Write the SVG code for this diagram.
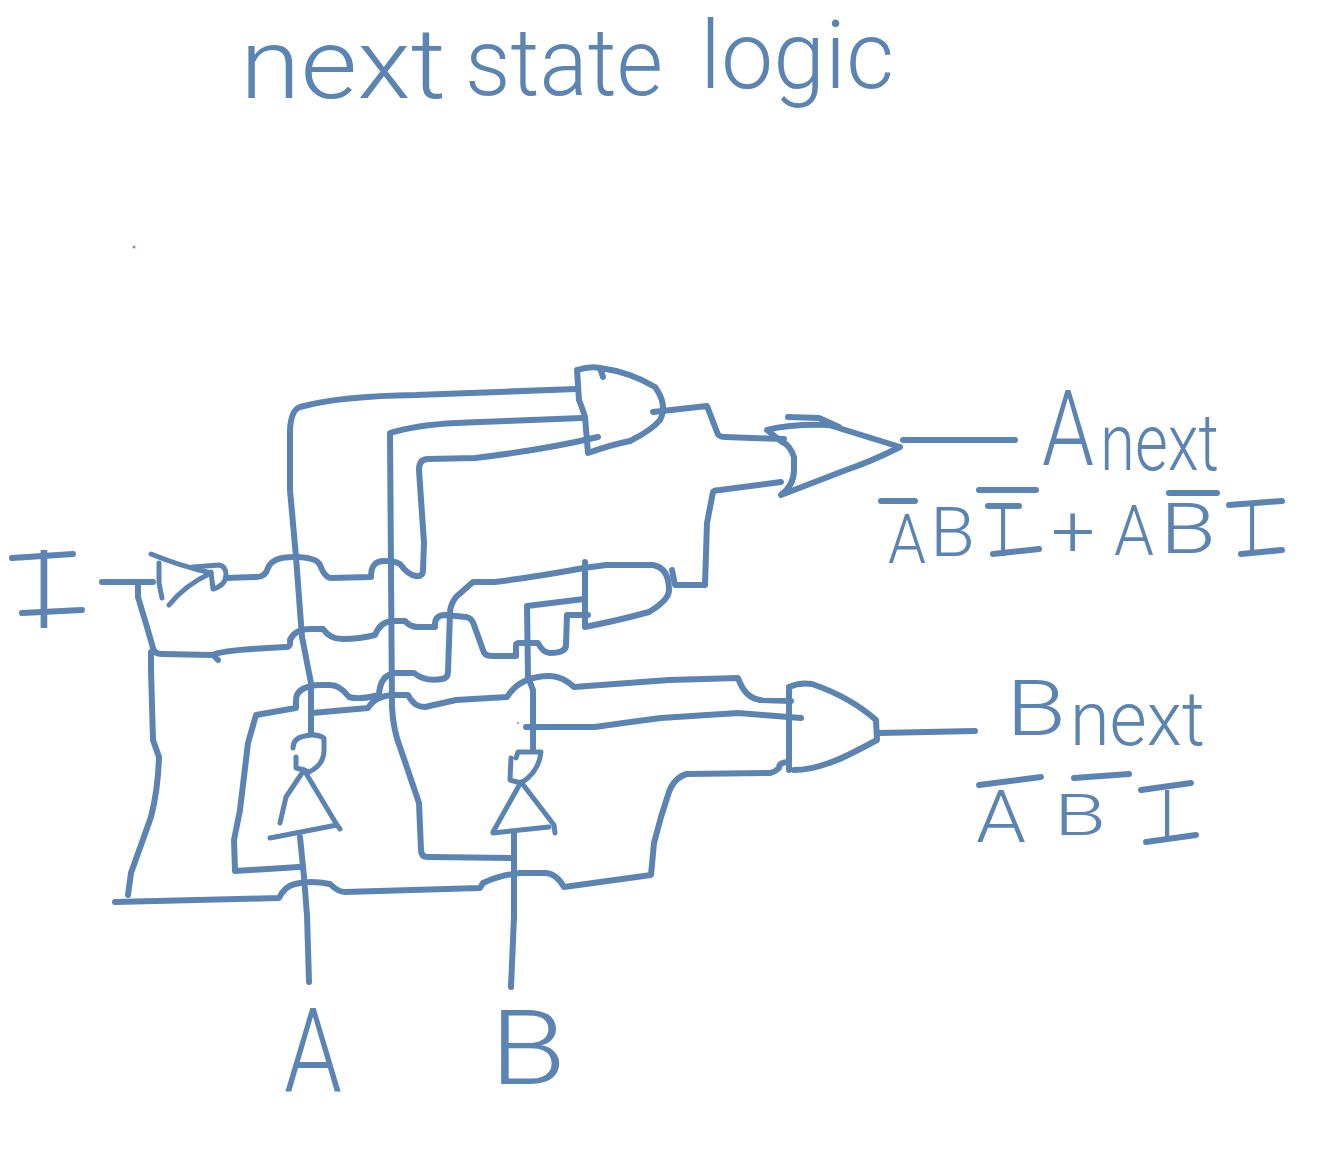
<svg xmlns="http://www.w3.org/2000/svg" width="1322" height="1168" viewBox="0 0 1322 1168">
<defs>
<style>
.w{fill:none;stroke:#5b84b3;stroke-width:6;stroke-linecap:round;stroke-linejoin:round}
.t{fill:none;stroke:#5b84b3;stroke-width:5;stroke-linecap:round;stroke-linejoin:round}
.x{fill:#5b84b3;font-family:Roboto,"Liberation Sans",sans-serif;font-weight:300}
</style>
<filter id="soft" filterUnits="userSpaceOnUse" x="0" y="0" width="1322" height="1168"><feGaussianBlur stdDeviation="0.6"/></filter>
</defs>
<rect width="1322" height="1168" fill="#ffffff"/>
<circle cx="134" cy="247" r="1.5" fill="#c9707f"/>
<circle cx="518" cy="723" r="1.2" fill="#8fa9c8"/>
<g filter="url(#soft)">
<g id="title">
<text class="x" x="240" y="98" font-size="98" textLength="206" lengthAdjust="spacingAndGlyphs">next</text>
<text class="x" x="465" y="95" font-size="94" textLength="198" lengthAdjust="spacingAndGlyphs">state</text>
<text class="x" x="700" y="88" font-size="94" textLength="194" lengthAdjust="spacingAndGlyphs">logic</text>
</g>
<g id="connectors">
<path class="w" d="M576,389 L416,395 Q340,396 300,407 Q291,410 290,430 L290,490 L296,557 L302,637 L311,683 L311,733"/>
<path class="w" d="M582,418 L456,423 Q416,425 390,433 L392,707 Q393,730 401,750 L419,803 L421,850 Q421,857 428,857 L513,858"/>
<path class="w" d="M598,437 Q543,450 475,458 L428,459 Q419,459 419,470 L424,543 L423,570 Q423,577 416,576 Q408,575 400,564 Q395,561 385,561 Q371,560 371,577 L331,578 Q325,578 320,565 Q317,558 298,557 Q272,556 268,568 Q265,578 255,577 L226,578"/>
<path class="w" d="M102,582 L153,582"/>
<path class="w" d="M138,582 L138,597 L147,627 L153,648 Q154,654 162,654 L213,655 Q222,650 286,647 Q291,647 290,640 Q295,629 310,629 L323,629 Q330,639 342,639 Q360,639 375,635 Q380,622 392,621 L405,621 Q410,627 418,627 L435,627 Q434,615 445,615 L466,617 Q472,618 474,625 L483,650 Q484,656 492,656 L516,656 L516,645 Q516,643 520,643 L538,643 Q543,653 550,653 Q566,653 566,645 L567,615 L588,615"/>
<path class="w" d="M213,655 L218,660"/>
<path class="w" d="M151,652 L151,670 L153,740 L159,757 Q158,790 151,817 L131,873 L128,895"/>
<path class="w" d="M584,568 Q535,577 495,582 L473,582 L456,597 Q450,605 450,613 L448,672 Q448,678 442,679 Q425,682 414,673 L395,673 Q380,675 379,695 Q360,700 349,697 Q340,685 330,685 L318,685 Q296,687 296,700 L296,708 L256,715 L248,743 L240,810 L234,840 L235,871 L299,867"/>
<path class="w" d="M312,713 L368,708 Q376,695 395,695 L408,695 Q414,707 425,707 L456,700 L507,697 Q520,676 550,676 Q562,676 574,687 L669,680 L738,678 Q745,698 760,700 L791,701"/>
<path class="w" d="M584,599 L527,606 L528,677 L533,690 L533,750"/>
<path class="w" d="M526,727 L595,727 Q630,722 661,718 L738,713 L801,718"/>
<path class="w" d="M789,762 Q779,762 779,768 Q775,772 770,773 L687,774 Q673,778 668,795 L661,817 L654,843 L651,875 L564,887 Q556,873 545,873 L520,873 Q500,875 483,883 L480,888 L345,892 Q338,892 330,884 Q310,880 295,884 Q285,886 279,898 L115,902"/>
<path class="w" d="M300,837 L304,877 L307,915 L309,982"/>
<path class="w" d="M514,833 L514,917 L511,987"/>
<path class="w" d="M672,570 L675,585 L705,585 L707,523 L713,492 Q714,490 720,490 L781,482"/>
<path class="w" d="M653,412 L707,406 L717,432 Q718,437 725,437 L784,439"/>
<path class="w" d="M903,440 L1015,440"/>
<path class="w" d="M879,733 L975,731"/>
</g>
<g id="inverter-I">
<path class="t" d="M151,554 Q180,566 211,573 Q185,585 169,605"/>
<path class="t" d="M159,563 L159,583 L162,598"/>
<path class="t" d="M193,567 L219,565 Q226,566 226,575 Q226,585 213,589 L211,572"/>
</g>
<g id="inverter-A">
<path class="t" d="M280,823 L286,797 L304,770 L337,825 L340,829"/>
<path class="t" d="M270,838 L337,825"/>
<path class="t" d="M296,757 L296,768 Q305,770 309,772 Q324,765 324,750 L324,738 Q316,733 305,736 Q293,738 293,748"/>
</g>
<g id="inverter-B">
<path class="t" d="M493,832 L521,782 L554,825 L555,833"/>
<path class="t" d="M493,833 L549,827"/>
<path class="t" d="M511,758 L510,780 L521,783 Q539,772 541,752 L518,752 L516,758"/>
</g>
<g id="and-1">
<path class="w" d="M577,370 L579,400 Q583,410 585,417 L588,453 Q610,445 630,441 Q652,430 660,420 Q668,405 655,387 Q630,372 600,368 L603,377 M600,368 Q590,366 577,370"/>
</g>
<g id="and-2">
<path class="w" d="M585,562 L585,627 Q620,620 649,612 Q669,600 669,590 Q669,568 653,565 L606,565 L584,568"/>
</g>
<g id="and-3">
<path class="w" d="M789,690 L789,770 M789,687 Q800,682 812,684 Q850,697 876,720 L877,740 Q840,760 829,763 Q810,770 794,770"/>
</g>
<g id="or-1">
<path class="w" d="M781,495 Q794,485 794,470 L794,457 Q790,445 782,442 L767,430 Q790,424 829,425 L900,447 Q870,462 846,470 L781,495"/>
<path class="w" d="M788,417 L819,418 L839,427"/>
</g>
<g id="label-I">
<text class="x" x="44" y="628" font-size="110" text-anchor="middle">I</text>
<path class="w" d="M12,558 L73,554 M22,613 L82,610"/>
</g>
<g id="label-A"><text class="x" x="284" y="1091" font-size="116" textLength="58" lengthAdjust="spacingAndGlyphs">A</text></g>
<g id="label-B"><text class="x" x="490" y="1084" font-size="103" textLength="76" lengthAdjust="spacingAndGlyphs">B</text></g>
<g id="label-Anext">
<text class="x" x="1042" y="465" font-size="105" textLength="52" lengthAdjust="spacingAndGlyphs">A</text>
<text class="x" x="1100" y="470" font-size="80" textLength="119" lengthAdjust="spacingAndGlyphs">next</text>
</g>
<g id="expr-Anext">
<text class="x" font-size="68" y="563" x="888" textLength="38" lengthAdjust="spacingAndGlyphs">A</text>
<text class="x" font-size="68" y="556" x="930" textLength="45" lengthAdjust="spacingAndGlyphs">B</text>
<text class="x" font-size="68" y="556" x="1003" text-anchor="middle">I</text>
<text class="x" font-size="72" y="556" x="1051" textLength="44" lengthAdjust="spacingAndGlyphs">+</text>
<text class="x" font-size="70" y="555" x="1114" textLength="40" lengthAdjust="spacingAndGlyphs">A</text>
<text class="x" font-size="70" y="553" x="1160" textLength="56" lengthAdjust="spacingAndGlyphs">B</text>
<text class="x" font-size="68" y="553" x="1252" text-anchor="middle">I</text>
<path class="w" d="M881,501 L915,501 M979,490 L1036,490 M988,506 L1019,506 M993,554 L1039,549 M1169,493 L1217,493 M1229,505 L1282,501 M1241,554 L1282,550"/>
</g>
<g id="label-Bnext">
<text class="x" x="1006" y="735" font-size="78" textLength="60" lengthAdjust="spacingAndGlyphs">B</text>
<text class="x" x="1070" y="745" font-size="76" textLength="135" lengthAdjust="spacingAndGlyphs">next</text>
</g>
<g id="expr-Bnext">
<text class="x" font-size="73" y="842" x="976" textLength="50" lengthAdjust="spacingAndGlyphs">A</text>
<text class="x" font-size="58" y="835" x="1054" textLength="52" lengthAdjust="spacingAndGlyphs">B</text>
<text class="x" font-size="70" y="840" x="1167" text-anchor="middle">I</text>
<path class="w" d="M979,785 L1041,777 M1074,778 L1129,774 M1141,790 L1191,783 M1146,842 L1196,835"/>
</g>
</g>
</svg>
